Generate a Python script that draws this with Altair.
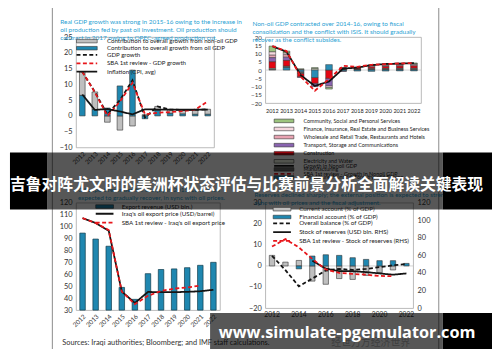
import altair as alt
import pandas as pd

years = list(range(2012, 2023))

# ---------------- Panel 1: real GDP growth ----------------
p1_title = ["Real GDP growth was strong in 2015-16 owing to the increase in",
            "oil production fed by past oil investment. Oil production should",
            "contract in 2017 owing to OPEC-agreed production cut."]
p1_bar_labels = ["Contribution to overall growth from non-oil GDP",
                 "Contribution to overall growth from oil GDP"]
p1_nonoil = [7.5, 5.6, -2.0, -4.5, -3.2, 0.4, 1.2, 1.2, 1.3, 1.4, 1.6]
p1_oil = [6.5, 2.0, 2.5, 9.5, 14.5, -0.9, 1.8, 0.8, 0.6, 0.5, 0.5]
p1_line_labels = ["GDP growth", "SBA 1st review - GDP growth", "Inflation (CPI, avg)"]
p1_gdp = [14.0, 7.6, 0.5, 5.0, 11.3, -0.5, 3.0, 2.0, 1.9, 1.9, 2.1]
p1_sba = [14.0, 7.5, 0.0, 4.5, 10.5, 0.5, 1.0, 1.2, 1.5, 2.0, 4.6]
p1_infl = [6.8, 1.9, 2.2, 1.4, 0.5, 2.1, 2.0, 2.0, 2.0, 2.0, 2.0]

# ---------------- Panel 2: non-oil GDP by sector ----------------
p2_title = ["Non-oil GDP contracted over 2014-16, owing to fiscal",
            "consolidation and the conflict with ISIS. It should gradually",
            "recover as the conflict subsides."]
p2_sectors = ["Community, Social and Personal Services",
              "Finance, Insurance, Real Estate and Business Services",
              "Wholesale and Retail Trade, Restaurants and Hotels",
              "Transport, Storage and Communications",
              "Construction",
              "Electricity and Water",
              "Manufacturing",
              "Agriculture, Hunting, Forestry, and Fishing"]
p2_colors = ["#9cc47e", "#f6d8df", "#e9a3b2", "#8963b0", "#e30613", "#eef4e2", "#666666", "#2a8db5"]
p2_community = [3.5, 1.2, 0.5, 0.7, -1.0, 0, 0, 0.4, 0.5, 0.6, 0.6]
p2_finance = [2.0, 1.0, 0.3, 0, -1.0, 0.2, 0.2, 0.4, 0.5, 0.5, 0.5]
p2_wholesale = [1.5, 1.5, 0, 0, 0, 0.3, 0.4, 0.6, 0.6, 0.6, 0.7]
p2_transport = [2.5, 2.0, -0.5, -2.0, -4.5, -0.3, 0, 0, 0, 0, 0]
p2_construction = [4.0, 3.5, -2.0, -3.5, -5.0, 0.5, 0.6, 1.0, 1.2, 1.3, 1.4]
p2_electricity = [0.5, 0.3, 0, 0.8, 0, 0.1, 0.1, 0.2, 0.2, 0.3, 0.3]
p2_manufacturing = [0.5, 0.5, -1.0, 0, 0, 0.4, 0.4, 0.6, 0.7, 0.8, 0.8]
p2_agriculture = [0, 1.5, -1.0, -4.5, 3.3, -0.5, -0.6, -0.8, -0.6, -0.5, -0.5]
p2_line_labels = ["Growth in Nonoil GDP", "SBA 1st review - Growth in Nonoil GDP"]
p2_growth = [14.4, 11.1, -3.1, -9.6, -6.9, 0.9, 1.5, 3.0, 3.7, 3.9, 4.2]
p2_sba = [14.5, 11.5, -4.0, -12.5, -5.5, 2.5, 2.0, 3.2, 3.6, 4.0, 4.3]

# ---------------- Panel 3: exports ----------------
p3_title = ["Oil export revenues fell sharply in 2015-16 and are",
            "expected to gradually recover, in sync with oil prices."]
p3_bar_labels = ["Export revenue (USD bln.)"]
p3_revenue = [94.5, 89.5, 83.5, 49, 39, 60.5, 64, 64.5, 65.5, 67.5, 70]
p3_line_labels = ["Iraq's oil export price (USD/barrel)", "SBA 1st review - Iraq's oil export price"]
p3_price = [107, 103, 96.5, 45.5, 36, 45.2, 45, 45, 45.3, 45.8, 47]
p3_sba = [107, 103, 97, 45.5, 35, 42, 46, 48, 49, 50.5, None]
p3_source = "Sources: Iraqi authorities; Bloomberg; and IMF staff calculations."

# ---------------- Panel 4: external balance ----------------
p4_title = ["Reserves declined sharply; the external position is expected to strengthen in",
            "sync with oil prices and the fiscal adjustment."]
p4_bar_labels = ["Current account (% of GDP)", "Financial account (% of GDP)"]
p4_current = [5.0, 1.8, 2.6, -7.2, -8.7, -6.0, -6.4, -4.5, -3.1, -1.9, 0]
p4_financial = [0, 0, -1.4, 4.7, 5.3, 5.0, 3.9, 3.1, 2.5, 2.5, 1.2]
p4_line_labels = ["Overall balance (% of GDP)", "Stock of reserves (USD bln. RHS)",
                  "SBA 1st review - Stock of reserves (RHS)"]
p4_balance = [4.8, -2.0, -9.7, -6.0, -2.2, -1.4, -1.9, -1.4, -0.6, 0.3, 0.9]
p4_reserves = [None, None, None, 54, 45, 42, 42, 41, 39.5, 38, 39.5]
p4_sba = [70, 78.5, 69, 56, 44, 40, 39, 38, 36.6, 36.3, None]

banner_text = "吉鲁对阵尤文时的美洲杯状态评估与比赛前景分析全面解读关键表现"
watermark_text = "www.simulate-pgemulator.com"
faint_text = "经世万方经济世界"

FONT = "Lato"
TEAL = "#2a9fd3"
HATCH = "#bfbfbf"
BLUE = "#1f87b0"
RED = "#e8161b"
INK = "#141414"
EDGE = "#333333"


def bars_df(names, lists, orders):
    rows = []
    for name, vals, o in zip(names, lists, orders):
        for yr, v in zip(years, vals):
            if v is not None and v != 0:
                rows.append({"year": yr, "series": name, "value": v, "ord": o})
    return pd.DataFrame(rows)


def lines_df(names, lists):
    rows = []
    for name, vals in zip(names, lists):
        for yr, v in zip(years, vals):
            if v is not None:
                rows.append({"year": yr, "series": name, "value": v})
    return pd.DataFrame(rows)


def legend(x, y, fs, width, row_gap, kind, gap=2.5):
    hw = width / 3.0
    if kind == "bar":
        sym = f"M{-hw:.2f},-1.2H{hw:.2f}V1.2H{-hw:.2f}Z"
        extra = dict(symbolStrokeColor=EDGE, symbolStrokeWidth=0.6)
    else:
        sym = f"M{-hw:.2f},0H{hw:.2f}"
        extra = dict(symbolStrokeWidth=1.8)
    return alt.Legend(orient="none", legendX=x, legendY=y, direction="vertical", title=None,
                      symbolType=sym, symbolSize=9, symbolOffset=width / 2 - fs / 2,
                      labelOffset=width + gap - fs, labelFontSize=fs, labelFont=FONT,
                      labelColor="#222", rowPadding=max(0, row_gap - fs), padding=0,
                      labelLimit=400, symbolOpacity=1, **extra)


def yaxis(vals, fs, orient="left"):
    return alt.Axis(values=vals, labelFontSize=fs, labelPadding=4, labelOverlap=False,
                    labelSeparation=0, labelFlush=False, orient=orient, tickCount=len(vals))


one = pd.DataFrame({"k": [0]})


def title_mark(lines, x, y, lh, fs=6.5):
    return alt.Chart(one).mark_text(align="left", baseline="middle", fontSize=fs, font=FONT,
                                    color=TEAL, lineHeight=lh).encode(
        x=alt.value(x), y=alt.value(y), text=alt.value(lines))


# ---------------- Panel 1 chart ----------------
x1 = alt.X("year:O", title=None, scale=alt.Scale(paddingInner=0.55, paddingOuter=0.275),
           axis=alt.Axis(labelAngle=-45, labelFontSize=6.5, labelPadding=3))
y1 = alt.Y("value:Q", title=None, stack="zero",
           scale=alt.Scale(domain=[-10, 25], nice=False, zero=False),
           axis=yaxis(list(range(-10, 30, 5)), 7.5))
frame = alt.Chart(one).mark_rect(fillOpacity=0, stroke="#8a8a8a", strokeWidth=1).encode(
    x=alt.value(-24), x2=alt.value(368), y=alt.value(-40), y2=alt.value(323))
p1b = alt.Chart(bars_df(p1_bar_labels, [p1_nonoil, p1_oil], [1, 0])).mark_bar(
    stroke=EDGE, strokeWidth=0.6).encode(
    x=x1, y=y1,
    fill=alt.Fill("series:N", scale=alt.Scale(domain=p1_bar_labels, range=[HATCH, BLUE]),
                  legend=legend(0.5, 1.0, 6.2, 21, 6.4, "bar")),
    order=alt.Order("ord:Q"))
L1 = legend(0.5, 15.0, 6.2, 21, 6.7, "line")
p1l = alt.Chart(lines_df(p1_line_labels, [p1_gdp, p1_sba, p1_infl])).mark_line(strokeWidth=1.8).encode(
    x=x1, y=alt.Y("value:Q"),
    stroke=alt.Stroke("series:N", scale=alt.Scale(domain=p1_line_labels, range=[INK, RED, INK]), legend=L1),
    strokeDash=alt.StrokeDash("series:N", scale=alt.Scale(domain=p1_line_labels,
                              range=[[4, 2.5], [4, 2.5], [1, 0]]), legend=L1))
t1 = title_mark(p1_title, -16, -15, 8)
tl = alt.layer(frame, p1b, p1l, t1).properties(width=140, height=112)

# ---------------- Panel 2 chart ----------------
x2 = alt.X("year:O", title=None, scale=alt.Scale(paddingInner=0.53, paddingOuter=0.265),
           axis=alt.Axis(labelAngle=0, labelFontSize=5.6, labelPadding=6, labelColor="#222"))
y2 = alt.Y("value:Q", title=None, stack="zero",
           scale=alt.Scale(domain=[-20, 20], nice=False),
           axis=yaxis(list(range(-20, 25, 5)), 6.3))
p2_lists = [p2_community, p2_finance, p2_wholesale, p2_transport, p2_construction,
            p2_electricity, p2_manufacturing, p2_agriculture]
zero2 = alt.Chart(one).mark_rule(color="#c8c8c8", strokeWidth=0.8).encode(y=alt.datum(0))
p2b = alt.Chart(bars_df(p2_sectors, p2_lists, list(range(7, -1, -1)))).mark_bar(
    stroke=EDGE, strokeWidth=0.5).encode(
    x=x2, y=y2,
    fill=alt.Fill("series:N", scale=alt.Scale(domain=p2_sectors, range=p2_colors),
                  legend=legend(9, 82.3, 5.5, 20, 5.7, "bar")),
    order=alt.Order("ord:Q"))
L2 = legend(9, 127.9, 5.5, 20, 5.7, "line")
p2l = alt.Chart(lines_df(p2_line_labels, [p2_growth, p2_sba])).mark_line(strokeWidth=1.8).encode(
    x=x2, y=alt.Y("value:Q"),
    stroke=alt.Stroke("series:N", scale=alt.Scale(domain=p2_line_labels, range=[INK, RED]), legend=L2),
    strokeDash=alt.StrokeDash("series:N", scale=alt.Scale(domain=p2_line_labels,
                              range=[[1, 0], [4, 2.5]]), legend=L2))
t2 = title_mark(p2_title, -13, -13.5, 8.5)
tr = alt.layer(zero2, p2b, p2l, t2).properties(width=158, height=67)

# ---------------- Panel 3 chart ----------------
x3 = alt.X("year:O", title=None, scale=alt.Scale(paddingInner=0.58, paddingOuter=0.29),
           axis=alt.Axis(labelAngle=-45, labelFontSize=6.5, labelPadding=3))
y3 = alt.Y("value:Q", title=None, scale=alt.Scale(domain=[30, 120], nice=False, zero=False),
           axis=yaxis(list(range(30, 130, 10)), 7.5))
p3b = alt.Chart(bars_df(p3_bar_labels, [p3_revenue], [0])).mark_bar(
    stroke="#0f3a4a", strokeWidth=0.7).encode(
    x=x3, y=y3, y2=alt.datum(30),
    fill=alt.Fill("series:N", scale=alt.Scale(domain=p3_bar_labels, range=[BLUE]),
                  legend=legend(20, 0.8, 6.3, 18, 7.3, "bar")))
L3 = legend(20, 8.1, 6.3, 18, 7.3, "line")
p3l = alt.Chart(lines_df(p3_line_labels, [p3_price, p3_sba])).mark_line(strokeWidth=1.8).encode(
    x=x3, y=alt.Y("value:Q"),
    stroke=alt.Stroke("series:N", scale=alt.Scale(domain=p3_line_labels, range=[INK, RED]), legend=L3),
    strokeDash=alt.StrokeDash("series:N", scale=alt.Scale(domain=p3_line_labels,
                              range=[[1, 0], [4, 2.5]]), legend=L3))
src = alt.Chart(one).mark_text(align="left", baseline="middle", fontSize=7.5, font=FONT,
                               color="#333").encode(x=alt.value(-14), y=alt.value(142),
                                                    text=alt.value(p3_source))
t3 = title_mark(p3_title, 2, -13, 8)
bl = alt.layer(p3b, p3l, src, t3).properties(width=146, height=109)

# ---------------- Panel 4 chart ----------------
x4 = alt.X("year:O", title=None, scale=alt.Scale(paddingInner=0.6, paddingOuter=0.3),
           axis=alt.Axis(values=[2012, 2014, 2016, 2018, 2020, 2022], labelAngle=0,
                         labelFontSize=6.8, labelPadding=4))
y4 = alt.Y("value:Q", title=None, stack="zero", scale=alt.Scale(domain=[-20, 30], nice=False),
           axis=yaxis([-20, -10, 0, 10, 20, 30], 7.5))
zero4 = alt.Chart(one).mark_rule(color="#c8c8c8", strokeWidth=0.8).encode(y=alt.datum(0))
p4b = alt.Chart(bars_df(p4_bar_labels, [p4_current, p4_financial], [0, 1])).mark_bar(
    stroke=EDGE, strokeWidth=0.6).encode(
    x=x4, y=y4,
    fill=alt.Fill("series:N", scale=alt.Scale(domain=p4_bar_labels, range=[HATCH, BLUE]),
                  legend=legend(8, 3.5, 6.3, 18, 7.2, "bar")),
    order=alt.Order("ord:Q"))
L4 = legend(8, 17.9, 6.3, 18, 7.2, "line")
s4 = alt.Stroke("series:N", scale=alt.Scale(domain=p4_line_labels, range=[INK, INK, RED]), legend=L4)
d4 = alt.StrokeDash("series:N", scale=alt.Scale(domain=p4_line_labels,
                    range=[[4, 2.5], [1, 0], [4, 2.5]]), legend=L4)
p4bal = alt.Chart(lines_df(p4_line_labels[:1], [p4_balance])).mark_line(strokeWidth=1.8).encode(
    x=x4, y=alt.Y("value:Q"), stroke=s4, strokeDash=d4)
p4res = alt.Chart(lines_df(p4_line_labels[1:], [p4_reserves, p4_sba])).mark_line(strokeWidth=1.8).encode(
    x=x4,
    y=alt.Y("value:Q", title=None, scale=alt.Scale(domain=[0, 120], nice=False),
            axis=yaxis(list(range(0, 140, 20)), 7.5, orient="right")),
    stroke=s4, strokeDash=d4)
t4 = title_mark(p4_title, -11, -8, 8)

# overlays (banner across the page and watermark), drawn last
faint = alt.Chart(one).mark_text(align="left", baseline="middle", fontSize=10,
                                 font="Noto Sans CJK SC", color="#b5b5b5").encode(
    x=alt.value(67), y=alt.value(142), text=alt.value(faint_text))
band_a = alt.Chart(one).mark_rect(color="black", opacity=0.66).encode(
    x=alt.value(-221), x2=alt.value(180), y=alt.value(-51), y2=alt.value(7))
band_b = alt.Chart(one).mark_rect(color="black", opacity=1).encode(
    x=alt.value(-259), x2=alt.value(-221), y=alt.value(-51), y2=alt.value(7))
band_c = alt.Chart(one).mark_rect(color="black", opacity=1).encode(
    x=alt.value(180), x2=alt.value(231), y=alt.value(-51), y2=alt.value(7))
banner = alt.Chart(one).mark_text(align="center", baseline="middle", fontSize=16,
                                  font="Noto Sans CJK SC", fontWeight="bold", color="white").encode(
    x=alt.value(-19), y=alt.value(-18), text=alt.value(banner_text))
wm_a = alt.Chart(one).mark_rect(color="black", opacity=0.66).encode(
    x=alt.value(-56), x2=alt.value(180), y=alt.value(112), y2=alt.value(150))
wm_b = alt.Chart(one).mark_rect(color="black", opacity=1).encode(
    x=alt.value(180), x2=alt.value(231), y=alt.value(112), y2=alt.value(150))
wm_text = alt.Chart(one).mark_text(align="center", baseline="middle", fontSize=16.5,
                                   font="Open Sans", fontWeight="bold", color="white").encode(
    x=alt.value(83), y=alt.value(132), text=alt.value(watermark_text))

br = alt.layer(alt.layer(zero4, p4b, p4bal), p4res, t4,
               faint, band_a, band_b, band_c, banner, wm_a, wm_b, wm_text).resolve_scale(
    y="independent").properties(width=150, height=107)

chart = alt.concat(tl, tr, bl, br, columns=2, spacing={"row": 56, "column": 46},
                   bounds="flush", align={"row": "all", "column": "none"}).resolve_scale(
    fill="independent", stroke="independent", strokeDash="independent").properties(
    autosize=alt.AutoSizeParams(type="none"),
    padding={"left": 69, "top": 27, "right": 422, "bottom": 314},
    background="white").configure_view(stroke="#a8a8a8", strokeWidth=0.8).configure_axis(
    labelFont=FONT, labelColor="#333", ticks=False, domain=False, grid=False, labelOverlap=False)

chart.save("out.html", embed_options={"renderer": "svg", "actions": False})
